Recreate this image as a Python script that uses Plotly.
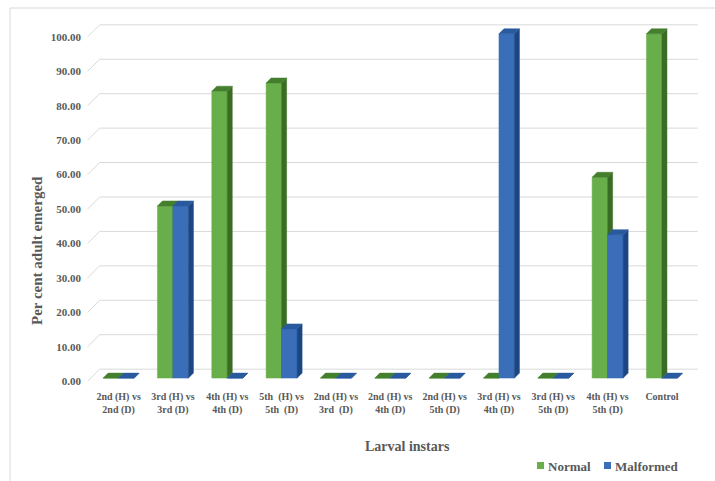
import plotly.graph_objects as go

categories = ["2nd (H) vs<br>2nd (D)", "3rd (H) vs<br>3rd (D)", "4th (H) vs<br>4th (D)",
              "5th  (H) vs<br>5th  (D)", "2nd (H) vs<br>3rd  (D)", "2nd (H) vs<br>4th (D)",
              "2nd (H) vs<br>5th (D)", "3rd (H) vs<br>4th (D)", "3rd (H) vs<br>5th (D)",
              "4th (H) vs<br>5th (D)", "Control"]
normal = [0.00, 50.00, 83.33, 85.71, 0.00, 0.00, 0.00, 0.00, 0.00, 58.33, 100.00]
malformed = [0.00, 50.00, 0.00, 14.29, 0.00, 0.00, 0.00, 100.00, 0.00, 41.67, 0.00]
y_ticks = [0, 10, 20, 30, 40, 50, 60, 70, 80, 90, 100]
series_names = ["Normal", "Malformed"]

# pseudo-3D geometry (axis units)
W = 0.285      # bar width
DX = 0.092     # depth offset x
DY = 1.45      # depth offset y
WALL_FRONT = -0.9
WALL_BACK = 2.6
X_L, X_B, X_R = -0.57, -0.35, 10.66

GRID = "#d9d9d9"
TXT = "#595959"
FONT = "Liberation Serif"
GREEN = ("#68AE4A", "#3A6C25", "#447F2E")
BLUE = ("#3A6EB8", "#1C4683", "#2A5A9E")

# plot area in pixels (for paper-coordinate helpers)
L, R, T, B = 86, 700, 20, 385


def px(x):
    return (x - L) / (R - L)


def py(y):
    return (B - y) / (B - T)


fig = go.Figure()

# back wall gridlines
gx, gy = [], []
for v in y_ticks:
    gx += [X_L, X_B, X_R, None]
    gy += [v + WALL_FRONT, v + WALL_BACK, v + WALL_BACK, None]
fig.add_trace(go.Scatter(x=gx, y=gy, mode="lines", line=dict(color=GRID, width=1),
                         hoverinfo="skip", showlegend=False))


def faces(values, shift):
    fx, fy, sx, sy, tx, ty = [], [], [], [], [], []
    for i, v in enumerate(values):
        x0 = i + shift
        x1 = x0 + W
        fx += [x0, x1, x1, x0, x0, None]
        fy += [0, 0, v, v, 0, None]
        sx += [x1, x1 + DX, x1 + DX, x1, x1, None]
        sy += [0, DY, v + DY, v, 0, None]
        tx += [x0, x1, x1 + DX, x0 + DX, x0, None]
        ty += [v, v, v + DY, v + DY, v, None]
    return (fx, fy), (sx, sy), (tx, ty)


def add_series(name, values, shift, cols):
    parts = faces(values, shift)
    for (xx, yy), col in zip(parts, cols):
        fig.add_trace(go.Scatter(x=xx, y=yy, mode="lines", fill="toself", name=name,
                                 fillcolor=col, line=dict(color=col, width=0.5),
                                 hoverinfo="skip", showlegend=False))


add_series(series_names[0], normal, -W, GREEN)
add_series(series_names[1], malformed, 0.0, BLUE)

# legend (drawn manually to match the compact Excel legend)
legend_items = [(series_names[0], GREEN[0], 537), (series_names[1], BLUE[0], 604)]
shapes = [dict(type="rect", xref="paper", yref="paper", x0=px(10), y0=-2, x1=2, y1=py(8),
               line=dict(color=GRID, width=1), fillcolor="rgba(0,0,0,0)", layer="below")]
annotations = [
    dict(text="Per cent adult emerged", xref="paper", yref="paper",
         x=px(37), y=py(251), showarrow=False, textangle=-90,
         font=dict(size=15, family=FONT, color=TXT, weight="bold"),
         xanchor="center", yanchor="middle"),
    dict(text="Larval instars", xref="paper", yref="paper",
         x=px(407), y=py(446), showarrow=False,
         font=dict(size=14, family=FONT, color=TXT, weight="bold"),
         xanchor="center", yanchor="middle"),
]
for name, col, x0 in legend_items:
    shapes.append(dict(type="rect", xref="paper", yref="paper", x0=px(x0), x1=px(x0 + 7),
                       y0=py(469), y1=py(462), line=dict(width=0), fillcolor=col))
    annotations.append(dict(text=name, xref="paper", yref="paper", x=px(x0 + 9), y=py(466),
                            showarrow=False, xanchor="left", yanchor="middle",
                            font=dict(size=13, family=FONT, color=TXT, weight="bold")))

fig.update_layout(
    width=715, height=481,
    margin=dict(l=L, r=715 - R, t=T, b=481 - B),
    paper_bgcolor="white", plot_bgcolor="white",
    font=dict(family=FONT, color=TXT, size=11, weight="bold"),
    xaxis=dict(range=[-0.6, 10.7], tickmode="array", tickvals=list(range(len(categories))),
               ticktext=categories, showgrid=False, zeroline=False, showline=False,
               ticklabelstandoff=4,
               tickfont=dict(size=10, family=FONT, color=TXT, weight="bold"), fixedrange=True),
    yaxis=dict(range=[-2, 104], tickmode="array", tickvals=[v + WALL_FRONT for v in y_ticks],
               ticktext=[f"{v:.2f}" for v in y_ticks], showgrid=False, zeroline=False,
               showline=False, ticklabelstandoff=4,
               tickfont=dict(size=11, family=FONT, color=TXT, weight="bold"),
               fixedrange=True),
    showlegend=False,
    shapes=shapes,
    annotations=annotations,
)

fig.write_html("out.html")
